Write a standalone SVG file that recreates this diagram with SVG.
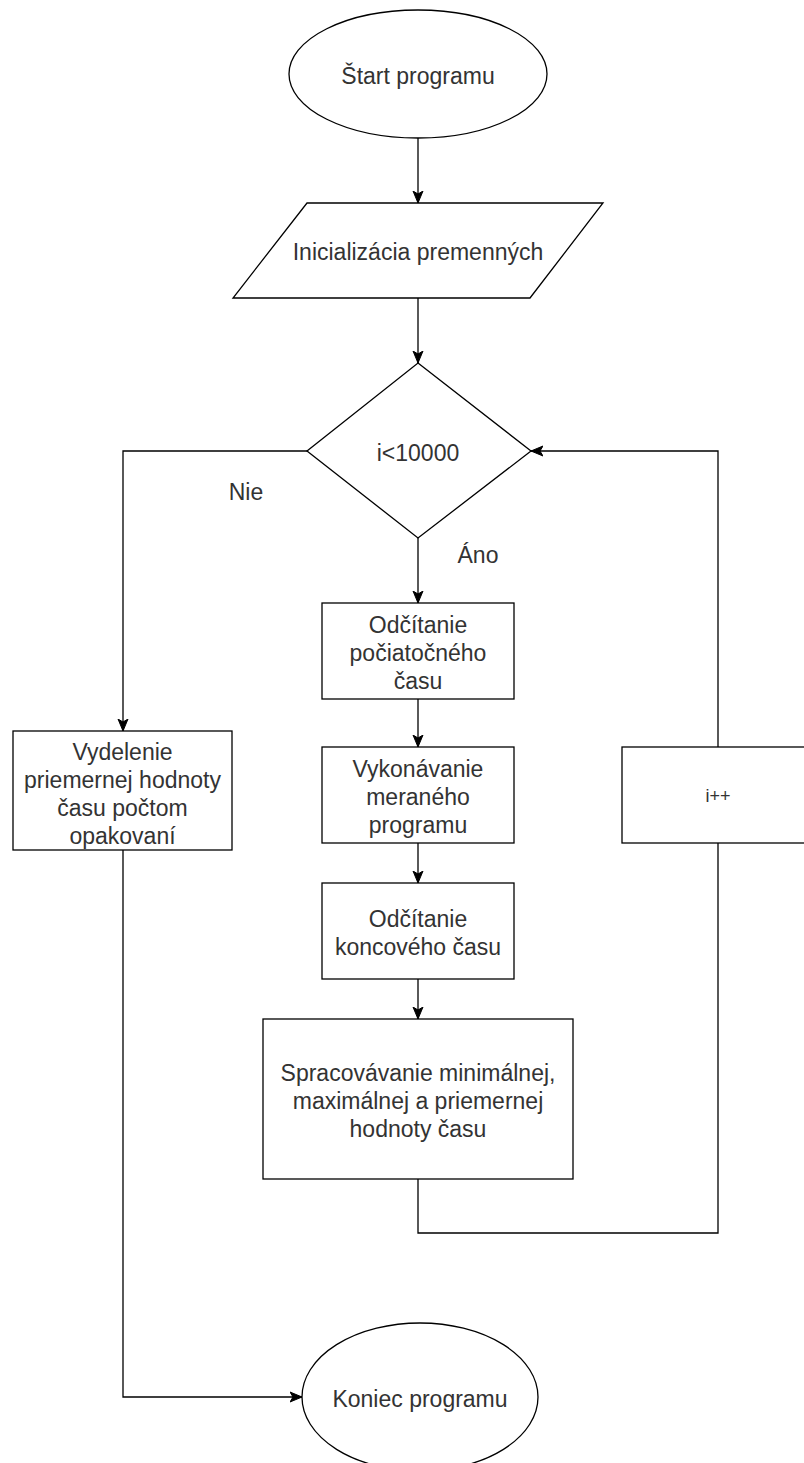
<svg xmlns="http://www.w3.org/2000/svg" width="804" height="1463" viewBox="0 0 804 1463">
  <style>
    .shape { fill: #ffffff; stroke: #000000; stroke-width: 1.3; }
    .conn { fill: none; stroke: #000000; stroke-width: 1.3; }
    .t { font-family: "Liberation Sans", Arial, sans-serif; font-size: 23px; fill: #333333; text-anchor: middle; }
    .small { font-size: 18px; }
  </style>
  <defs>
    <marker id="arrow" viewBox="0 0 12 12" refX="12" refY="6" markerWidth="12" markerHeight="12" orient="auto" markerUnits="userSpaceOnUse">
      <path d="M0,1 L12,6 L0,11 L3,6 Z" fill="#000000" stroke="#000000" stroke-width="1"/>
    </marker>
  </defs>
  <rect x="0" y="0" width="804" height="1463" fill="#ffffff"/>

  <g id="connectors">
    <path class="conn" d="M418,138 L418,203" marker-end="url(#arrow)"/>
    <path class="conn" d="M418,298 L418,363" marker-end="url(#arrow)"/>
    <path class="conn" d="M418,538 L418,603" marker-end="url(#arrow)"/>
    <path class="conn" d="M418,699 L418,747" marker-end="url(#arrow)"/>
    <path class="conn" d="M418,843 L418,883" marker-end="url(#arrow)"/>
    <path class="conn" d="M418,979 L418,1019" marker-end="url(#arrow)"/>
    <path class="conn" d="M418,1179 L418,1233 L718,1233 L718,843"/>
    <path class="conn" d="M718,747 L718,451 L531,451" marker-end="url(#arrow)"/>
    <path class="conn" d="M307,451 L123,451 L123,731" marker-end="url(#arrow)"/>
    <path class="conn" d="M123,850 L123,1397 L302,1397" marker-end="url(#arrow)"/>
    <text class="t" x="246" y="500">Nie</text>
    <text class="t" x="478" y="563">Áno</text>
  </g>

  <g id="start">
    <ellipse class="shape" cx="418" cy="74" rx="129" ry="64"/>
    <text class="t" x="418" y="84">Štart programu</text>
  </g>

  <g id="init">
    <polygon class="shape" points="307,203 603,203 530,298 233,298"/>
    <text class="t" x="418" y="260">Inicializácia premenných</text>
  </g>

  <g id="decision">
    <polygon class="shape" points="418,363 531,451 418,538 307,451"/>
    <text class="t" x="418" y="461">i&lt;10000</text>
  </g>

  <g id="divide">
    <rect class="shape" x="13" y="731" width="219" height="119"/>
    <text class="t" x="122.5" y="760">Vydelenie</text>
    <text class="t" x="122.5" y="788">priemernej hodnoty</text>
    <text class="t" x="122.5" y="816">času počtom</text>
    <text class="t" x="122.5" y="844">opakovaní</text>
  </g>

  <g id="startTime">
    <rect class="shape" x="322" y="603" width="192" height="96"/>
    <text class="t" x="418" y="633">Odčítanie</text>
    <text class="t" x="418" y="661">počiatočného</text>
    <text class="t" x="418" y="689">času</text>
  </g>

  <g id="execute">
    <rect class="shape" x="322" y="747" width="192" height="96"/>
    <text class="t" x="418" y="777">Vykonávanie</text>
    <text class="t" x="418" y="805">meraného</text>
    <text class="t" x="418" y="833">programu</text>
  </g>

  <g id="endTime">
    <rect class="shape" x="322" y="883" width="192" height="96"/>
    <text class="t" x="418" y="927">Odčítanie</text>
    <text class="t" x="418" y="955">koncového času</text>
  </g>

  <g id="process">
    <rect class="shape" x="263" y="1019" width="310" height="160"/>
    <text class="t" x="418" y="1081">Spracovávanie minimálnej,</text>
    <text class="t" x="418" y="1109">maximálnej a priemernej</text>
    <text class="t" x="418" y="1137">hodnoty času</text>
  </g>

  <g id="increment">
    <rect class="shape" x="622" y="747" width="192" height="96"/>
    <text class="t small" x="718" y="802">i++</text>
  </g>

  <g id="end">
    <ellipse class="shape" cx="420" cy="1397" rx="118" ry="74"/>
    <text class="t" x="420" y="1407">Koniec programu</text>
  </g>
</svg>
